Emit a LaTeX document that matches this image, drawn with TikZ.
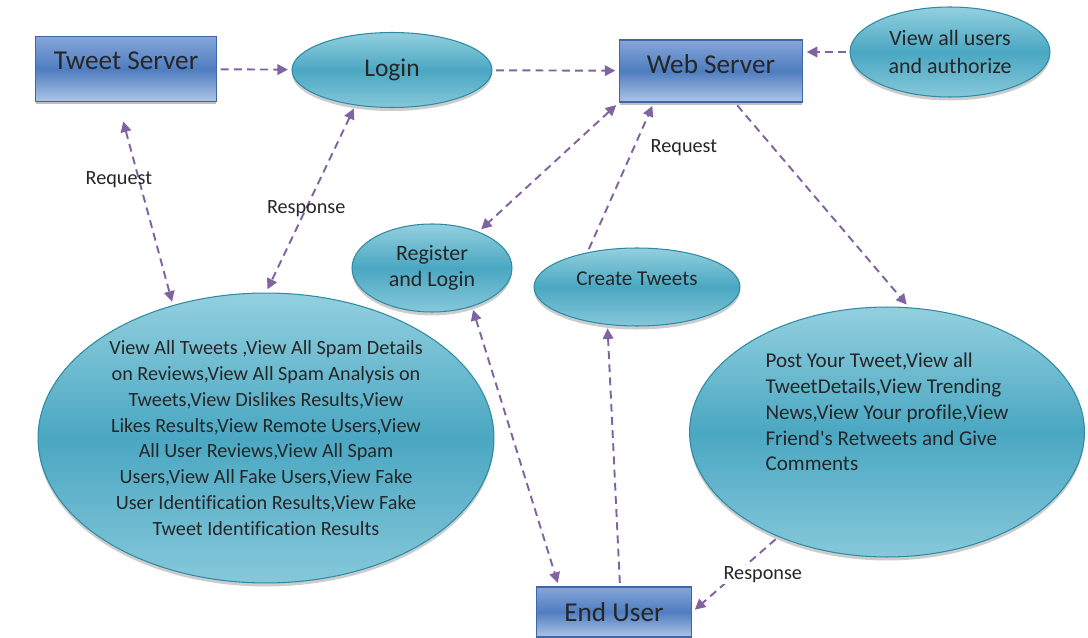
\documentclass[tikz,border=0pt]{standalone}
\usepackage{fontspec}
\setmainfont{Carlito}[Ligatures=NoCommon]
\usetikzlibrary{arrows.meta,shapes.geometric,shadows}

\definecolor{boxblue}{HTML}{4F7DC0}
\definecolor{boxtop}{HTML}{86A6D9}
\definecolor{boxbottom}{HTML}{AEC4E6}
\definecolor{boxline}{HTML}{3F67A8}
\definecolor{aquamid}{HTML}{4AA7C2}
\definecolor{aquatop}{HTML}{93D0DF}
\definecolor{aquabottom}{HTML}{86C8DA}
\definecolor{aqualine}{HTML}{2E8AA5}
\definecolor{flow}{HTML}{8064A2}

\begin{document}
\begin{tikzpicture}[x=0.02cm, y=-0.02cm, >={Triangle[length=6pt,width=6pt]},
                    server/.style={rectangle, draw=boxline, line width=0.8pt, top color=boxtop, bottom color=boxbottom, middle color=boxblue,
                                   font=\fontsize{15.5}{18}\selectfont, text=black!85, drop shadow={shadow xshift=0pt, shadow yshift=-1.5pt, opacity=0.5}},
                    usecase/.style={ellipse, draw=aqualine, line width=0.6pt, top color=aquatop, bottom color=aquabottom, middle color=aquamid,
                                    align=center, inner sep=0pt, text=black!85, drop shadow={shadow xshift=0pt, shadow yshift=-2pt, opacity=0.4}},
                    fleche/.style={line width=1.1pt, flow, dash pattern=on 4.5pt off 3pt, shorten >=2pt, shorten <=2pt,
                                   text=black!85, font=\fontsize{11.5}{13}\selectfont}]

	\useasboundingbox (0,0) rectangle (1088,638);

	\node[server, minimum width=3.62cm, minimum height=1.3cm, text depth=10pt] (TweetServer) at (126,69) {Tweet Server};

	\node[usecase, minimum width=4cm, minimum height=1.5cm, font=\fontsize{14.5}{18}\selectfont] (Login) at (392,70) {Login};

	\node[server, minimum width=3.66cm, minimum height=1.24cm, text depth=8pt] (WebServer) at (711,71) {Web Server};

	\node[usecase, minimum width=4cm, minimum height=1.8cm, font=\fontsize{12.5}{15.5}\selectfont] (ViewUsers) at (950,52) {View all users\\and authorize};

	\node[usecase, minimum width=3.2cm, minimum height=1.76cm, font=\fontsize{12.5}{14.7}\selectfont, yshift=-0.1cm] (Register) at (432,263) {Register\\and Login};

	\node[usecase, minimum width=4.12cm, minimum height=1.56cm, font=\fontsize{12}{14}\selectfont, text depth=10pt] (CreateTweets) at (637,287) {Create Tweets};

	\node[usecase, minimum width=9.12cm, minimum height=5.8cm, font=\fontsize{11.5}{14.7}\selectfont] (AdminView) at (266,438)
		{View All Tweets ,View All Spam Details\\on Reviews,View All Spam Analysis on\\Tweets,View Dislikes Results,View\\Likes Results,View Remote Users,View\\All User Reviews,View All Spam\\Users,View All Fake Users,View Fake\\User Identification Results,View Fake\\Tweet Identification Results};

	\node[usecase, minimum width=7.9cm, minimum height=5cm,
	      label={[align=left, yshift=0.4cm, font=\fontsize{12}{14.7}\selectfont, text=black!85]center:Post Your Tweet,View all\\TweetDetails,View Trending\\News,View Your profile,View\\Friend\textquotesingle s Retweets and Give\\Comments}] (UserView) at (887,432) {};

	\node[server, minimum width=3.1cm, minimum height=1cm] (EndUser) at (614,612) {End User};


	\path[->, fleche] (TweetServer) edge (Login);

	\path[->, fleche] (Login) edge (WebServer);

	\path[->, fleche] (ViewUsers.west) edge (WebServer.east |- ViewUsers.west);

	\path[<->, fleche, shorten <=0.4cm] ([xshift=-0.16cm]TweetServer.south) edge node[pos=0.38, xshift=-0.4cm] {Request} (AdminView.125);

	\path[<->, fleche] (Login.224) edge node[pos=0.55] {Response} (AdminView.north);

	\path[<->, fleche] (WebServer.south west) edge (Register.38);

	\path[->, fleche] (CreateTweets.145) edge node[pos=0.7, right, xshift=0.2cm] {Request} ([xshift=0.7cm]WebServer.south west);

	\path[->, fleche] ([xshift=0.48cm]WebServer.south) edge (UserView.80);

	\path[<->, fleche] (Register.-44) edge ([xshift=0.46cm]EndUser.north west);

	\path[->, fleche] ([xshift=0.12cm]EndUser.north) edge (CreateTweets.232);

	\path[->, fleche] (UserView.224) edge node[pos=0.5, xshift=0.55cm, fill=white, inner sep=1pt] {Response} (EndUser.east);

\end{tikzpicture}
\end{document}
